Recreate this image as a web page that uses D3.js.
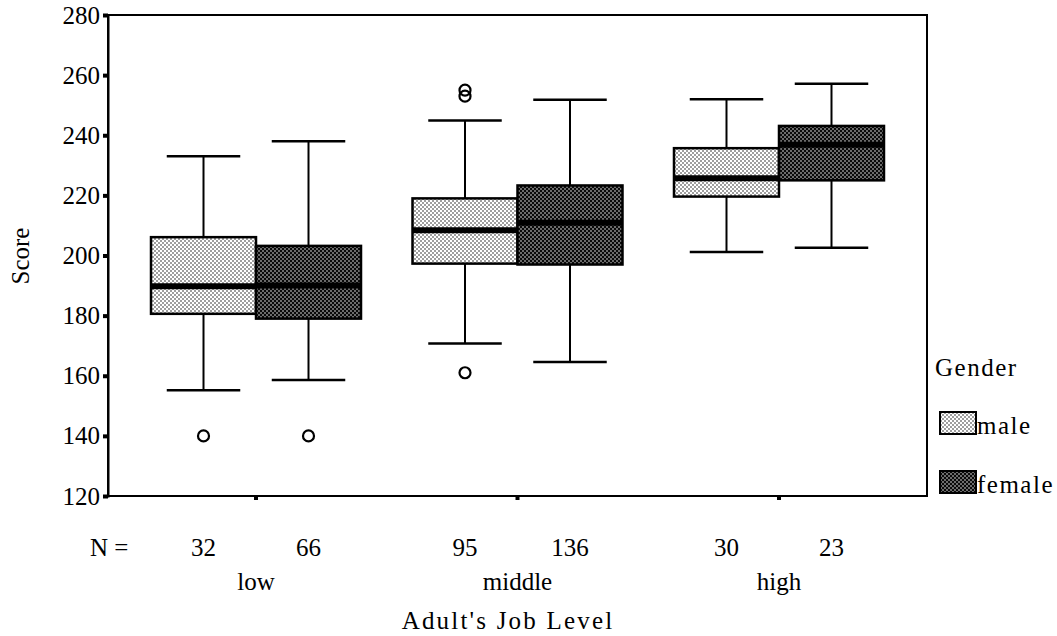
<!DOCTYPE html>
<html lang="en">
<head>
<meta charset="UTF-8">
<title>Score by Adult's Job Level and Gender</title>
<style>
  body { margin: 0; background: #fff; }
  text { font-family: "Liberation Serif", "Times New Roman", serif; fill: #000; }
</style>
</head>
<body>
<svg id="chart" width="1057" height="636"></svg>
<script src="https://d3js.org/d3.v7.min.js"></script>
<script>
// categories and groups
const jobLevels = ["low", "middle", "high"];
const genders = ["male", "female"];
const yTicks = [120, 140, 160, 180, 200, 220, 240, 260, 280];

// box statistics, one array per job level, in gender order (male, female)
const counts   = { low: [32, 66],          middle: [95, 136],        high: [30, 23] };
const lowWhisk = { low: [155.2, 158.6],    middle: [170.7, 164.6],   high: [201.2, 202.6] };
const q1       = { low: [180.6, 179.0],    middle: [197.3, 197.0],   high: [219.6, 225.0] };
const medians  = { low: [189.8, 190.0],    middle: [208.4, 210.9],   high: [225.7, 236.8] };
const q3       = { low: [206.1, 203.2],    middle: [219.0, 223.3],   high: [235.7, 243.1] };
const highWhisk= { low: [233.0, 238.0],    middle: [244.9, 251.8],   high: [252.0, 257.1] };
const outliers = { low: [[140], [140]],    middle: [[161, 253, 255], []], high: [[], []] };

const svg = d3.select("#chart");
const plotL = 108, plotR = 927, plotT = 15, plotB = 496;
const fs = "25px";

// patterns for the two genders
const defs = svg.append("defs");
const pm = defs.append("pattern").attr("id", "pat-male")
    .attr("patternUnits", "userSpaceOnUse").attr("width", 4).attr("height", 4);
pm.append("rect").attr("width", 4).attr("height", 4).attr("fill", "#fff");
pm.append("circle").attr("cx", 1).attr("cy", 1).attr("r", 0.8).attr("fill", "#222");
pm.append("circle").attr("cx", 3).attr("cy", 3).attr("r", 0.8).attr("fill", "#222");

const pf = defs.append("pattern").attr("id", "pat-female")
    .attr("patternUnits", "userSpaceOnUse").attr("width", 4).attr("height", 4);
pf.append("rect").attr("width", 4).attr("height", 4).attr("fill", "#0a0a0a");
pf.append("circle").attr("cx", 1).attr("cy", 1).attr("r", 0.75).attr("fill", "#fff");
pf.append("circle").attr("cx", 3).attr("cy", 3).attr("r", 0.75).attr("fill", "#fff");

const fillFor = g => g === "male" ? "url(#pat-male)" : "url(#pat-female)";

// scales
const x = d3.scaleBand().domain(jobLevels).range([plotL, plotR]).paddingOuter(0.066).paddingInner(0);
const xg = d3.scaleBand().domain(genders).range([-105, 105]);
const y = d3.scaleLinear().domain([120, 280]).range([plotB, plotT]);

// frame
svg.append("rect")
    .attr("x", plotL).attr("y", plotT)
    .attr("width", plotR - plotL).attr("height", plotB - plotT)
    .attr("fill", "none").attr("stroke", "#000").attr("stroke-width", 2);

// y axis
const yAxis = svg.append("g")
    .attr("transform", `translate(${plotL},0)`)
    .call(d3.axisLeft(y).tickValues(yTicks).tickSize(5).tickPadding(3));
yAxis.select(".domain").attr("stroke-width", 2);
yAxis.selectAll(".tick line").attr("stroke-width", 4);
yAxis.selectAll(".tick text")
    .style("font-family", "'Liberation Serif', serif").style("font-size", fs);

// category ticks
svg.append("g").selectAll("rect")
    .data(jobLevels)
    .join("rect")
    .attr("x", d => x(d) + x.bandwidth() / 2 - 2)
    .attr("y", plotB + 1)
    .attr("width", 4).attr("height", 3)
    .attr("fill", "#000");

// boxes
const boxes = [];
jobLevels.forEach(level => {
    genders.forEach((g, i) => {
        boxes.push({
            level, gender: g,
            n: counts[level][i],
            lo: lowWhisk[level][i], q1: q1[level][i], med: medians[level][i],
            q3: q3[level][i], hi: highWhisk[level][i], out: outliers[level][i]
        });
    });
});

const bw = xg.bandwidth();
const cx = d => x(d.level) + x.bandwidth() / 2 + xg(d.gender) + bw / 2;
const capW = bw * 0.7;

const bg = svg.append("g").selectAll("g").data(boxes).join("g");

// whiskers
bg.append("line")
    .attr("x1", cx).attr("x2", cx)
    .attr("y1", d => y(d.hi)).attr("y2", d => y(d.q3))
    .attr("stroke", "#000").attr("stroke-width", 2);
bg.append("line")
    .attr("x1", cx).attr("x2", cx)
    .attr("y1", d => y(d.q1)).attr("y2", d => y(d.lo))
    .attr("stroke", "#000").attr("stroke-width", 2);
bg.append("line")
    .attr("x1", d => cx(d) - capW / 2).attr("x2", d => cx(d) + capW / 2)
    .attr("y1", d => y(d.hi)).attr("y2", d => y(d.hi))
    .attr("stroke", "#000").attr("stroke-width", 2.5);
bg.append("line")
    .attr("x1", d => cx(d) - capW / 2).attr("x2", d => cx(d) + capW / 2)
    .attr("y1", d => y(d.lo)).attr("y2", d => y(d.lo))
    .attr("stroke", "#000").attr("stroke-width", 2.5);

// box
bg.append("rect")
    .attr("x", d => cx(d) - bw / 2)
    .attr("y", d => y(d.q3))
    .attr("width", bw)
    .attr("height", d => y(d.q1) - y(d.q3))
    .attr("fill", d => fillFor(d.gender))
    .attr("stroke", "#000").attr("stroke-width", 2.5);

// median
bg.append("line")
    .attr("x1", d => cx(d) - bw / 2).attr("x2", d => cx(d) + bw / 2)
    .attr("y1", d => y(d.med)).attr("y2", d => y(d.med))
    .attr("stroke", "#000").attr("stroke-width", 6);

// outliers
bg.selectAll("circle")
    .data(d => d.out.map(v => ({ v, d })))
    .join("circle")
    .attr("cx", o => cx(o.d))
    .attr("cy", o => y(o.v))
    .attr("r", 5.5)
    .attr("fill", "none").attr("stroke", "#000").attr("stroke-width", 2.2);

// N row
svg.append("text")
    .attr("x", 90).attr("y", 556)
    .style("font-size", fs)
    .text("N =");
svg.append("g").selectAll("text")
    .data(boxes)
    .join("text")
    .attr("x", cx).attr("y", 556)
    .attr("text-anchor", "middle")
    .style("font-size", fs)
    .text(d => d.n);

// category labels
svg.append("g").selectAll("text")
    .data(jobLevels)
    .join("text")
    .attr("x", d => x(d) + x.bandwidth() / 2)
    .attr("y", 590)
    .attr("text-anchor", "middle")
    .style("font-size", fs)
    .text(d => d);

// axis titles
svg.append("text")
    .attr("x", 508).attr("y", 629)
    .attr("text-anchor", "middle")
    .style("font-size", fs)
    .style("letter-spacing", "2.2px")
    .text("Adult's Job Level");

svg.append("text")
    .attr("transform", "translate(29,256) rotate(-90)")
    .attr("text-anchor", "middle")
    .style("font-size", fs)
    .text("Score");

// legend
svg.append("text")
    .attr("x", 935).attr("y", 376)
    .style("font-size", fs)
    .style("letter-spacing", "1.5px")
    .text("Gender");

const legend = svg.append("g").selectAll("g")
    .data(genders)
    .join("g")
    .attr("transform", (d, i) => `translate(940,${412 + i * 59})`);
legend.append("rect")
    .attr("width", 36).attr("height", 22)
    .attr("fill", d => fillFor(d))
    .attr("stroke", "#000").attr("stroke-width", 2);
legend.append("text")
    .attr("x", 37).attr("y", 22)
    .style("font-size", fs)
    .style("letter-spacing", "1.5px")
    .text(d => d);
</script>
</body>
</html>
